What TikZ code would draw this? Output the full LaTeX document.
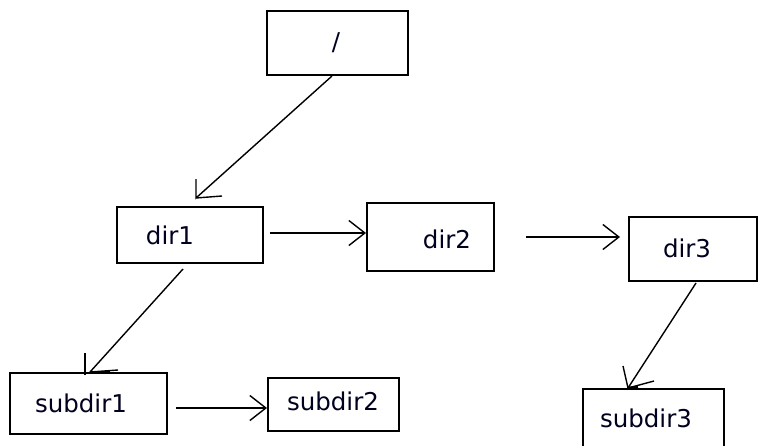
\documentclass[tikz,border=0pt]{standalone}
\usepackage{fontspec}
\setmainfont{DejaVu Sans}
\usetikzlibrary{arrows.meta}
\begin{document}
\begin{tikzpicture}[x=1pt,y=-1pt,
  box/.style={draw=black,line width=2pt,fill=none,inner sep=0pt,rectangle},
  lbl/.style={font=\fontsize{24.5}{28}\selectfont,inner sep=0pt,text=black!88!blue},
  line/.style={draw=black,line width=1.4pt},
  conn/.style={line,-{Straight Barb[length=16pt,width=25pt,line width=1.4pt]}}]
\useasboundingbox (0,0) rectangle (759,445);
\fill[white] (0,0) rectangle (759,445);
\begin{scope}
\clip (0,0) rectangle (759,445);
\node[box,minimum width=141pt,minimum height=64pt] (root) at (337.5,43) {};
\node[box,minimum width=146pt,minimum height=56pt] (dir1) at (190,235) {};
\node[box,minimum width=127pt,minimum height=68pt] (dir2) at (430.5,237) {};
\node[box,minimum width=128pt,minimum height=64pt] (dir3) at (693,249) {};
\node[box,minimum width=157pt,minimum height=61pt] (subdir1) at (88.5,403.5) {};
\node[box,minimum width=131pt,minimum height=53pt] (subdir2) at (333.5,404.5) {};
\node[box,minimum width=141pt,minimum height=71pt] (subdir3) at (653.5,424.5) {};
\end{scope}
\node[lbl] (troot) at (336,43) {/};
\node[lbl] (tdir1) at (170,235) {dir1};
\node[lbl] (tdir2) at (447,239) {dir2};
\node[lbl] (tdir3) at (687,248) {dir3};
\node[lbl] (tsubdir1) at (81,403) {subdir1};
\node[lbl] (tsubdir2) at (333,401) {subdir2};
\node[lbl] (tsubdir3) at (646,418) {subdir3};
% diagonal connectors with hand-drawn, screen-aligned heads
\coordinate (h1) at ([xshift=6pt,yshift=8pt]dir1.north);
\draw[line] ([xshift=-5.5pt]root.south) -- (h1) -- ++(0,-19) (h1) -- ++(26,-2);
\coordinate (h2) at ([xshift=1.5pt]subdir1.north);
\draw[line] ([xshift=-7pt,yshift=-5pt]dir1.south) -- (h2);
\draw[line] ([xshift=-5pt,yshift=-3pt]h2) -- ++(0,-22);
\draw[line] (h2) -- ++(28,-2);
\draw[black,line width=3pt] ([xshift=6pt]h2) -- ++(14,0);
\coordinate (h3) at ([xshift=-25.5pt]subdir3.north);
\draw[line] ([xshift=3pt,yshift=-1pt]dir3.south) -- (h3);
\draw[line] (h3) -- ++(-5,-22);
\draw[line] (h3) -- ++(26,-7);
\draw[black,line width=2.5pt] (h3) -- ++(10,-1);
% horizontal connectors
\draw[conn] ([xshift=6pt,yshift=2pt]dir1.east) -- ([yshift=4pt]dir2.west);
\draw[conn] ([xshift=31pt]dir2.east) -- ([xshift=-8pt,yshift=12pt]dir3.west);
\draw[conn] ([xshift=8pt,yshift=-4.5pt]subdir1.east) -- ([yshift=-3.5pt]subdir2.west);
\end{tikzpicture}
\end{document}
